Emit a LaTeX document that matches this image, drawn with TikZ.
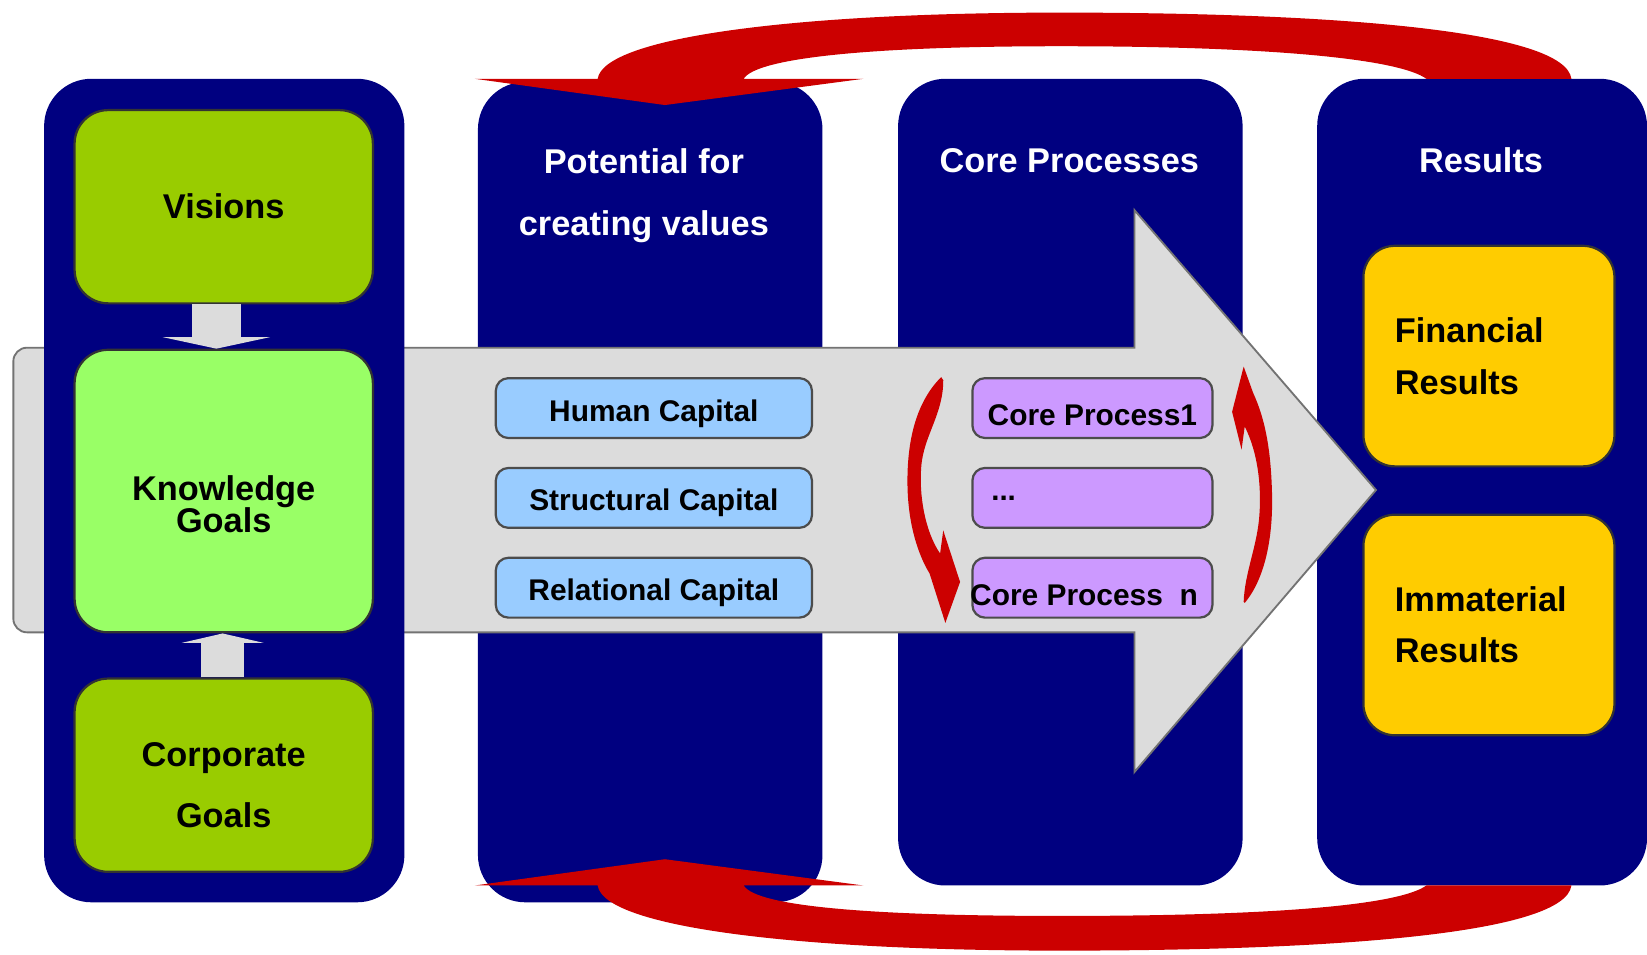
\documentclass[tikz,border=0pt]{standalone}
\usepackage{fontspec}
\setmainfont{Liberation Sans}
\usetikzlibrary{%
  arrows.meta,%
  positioning,%
  calc%
}
\definecolor{navyblue}{HTML}{000080}
\definecolor{goalgreen}{HTML}{99CC00}
\definecolor{knowgreen}{HTML}{99FF66}
\definecolor{capblue}{HTML}{99CCFF}
\definecolor{procviolet}{HTML}{CC99FF}
\definecolor{resyellow}{HTML}{FFCC00}
\definecolor{loopred}{HTML}{CC0000}
\definecolor{flowgray}{HTML}{DCDCDC}

\begin{document}
\begin{tikzpicture}
  [
  font=\bfseries, line width=0.6pt,
  column/.style={rectangle, fill=navyblue, rounded corners=4.5mm, inner sep=0pt},
  goal/.style={rectangle, minimum height=18.4mm, minimum width=28.4mm, draw=black!80, fill=goalgreen, rounded corners=3.2mm, align=center, font=\fontsize{9.3}{16.3}\selectfont\bfseries},
  goaltext/.style={goal, draw=none, fill=none, minimum height=0mm},
  capital/.style={rectangle, minimum height=5.7mm, minimum width=30.1mm, inner sep=0pt, draw=black!70, fill=capblue, rounded corners=1.2mm, font=\fontsize{8.1}{9.6}\selectfont\bfseries},
  process/.style={capital, minimum width=22.85mm, fill=procviolet},
  result/.style={rectangle, minimum height=21mm, text width=17.9mm, inner xsep=3mm, draw=black!80, fill=resyellow, rounded corners=3mm, align=left, font=\fontsize{9.3}{13.9}\selectfont\bfseries},
  header/.style={text=white, align=center, font=\fontsize{9.3}{16.7}\selectfont\bfseries},
  flow/.style={fill=flowgray, draw=black!55, line width=0.5pt},
  block/.style={draw=flowgray, line width=4.7mm, -{Triangle[width=10.2mm, length=1.1mm]}},
  loop/.style={fill=loopred}
  ]

\useasboundingbox (0,0) rectangle (15.68,-9.09);

\node[column, minimum width=32.8mm, minimum height=78.1mm] (col2) at (6.19,-4.685) {};
\node[column, minimum width=32.8mm, minimum height=76.8mm] (col3) at (10.19,-4.59) {};
\node[column, minimum width=31.4mm, minimum height=76.8mm] (col4) at (14.11,-4.59) {};

\draw[flow, rounded corners=1.3mm] (5,-3.31) -- (0.127,-3.31) -- (0.127,-6.02) -- (5,-6.02) [sharp corners] -- (10.80,-6.02) -- (10.80,-7.35) -- (13.10,-4.665) -- (10.80,-2.00) -- (10.80,-3.31) -- cycle;

\node[column, minimum width=34.3mm, minimum height=78.4mm] (col1) at (2.135,-4.67) {};

\node[header] (head2) at (6.13,-1.86) {Potential for\\creating values};
\node[header] (head3) at (10.18,-1.53) {Core Processes};
\node[header] (head4) at (14.10,-1.53) {Results};

\node[goal] (vis) at (2.13,-1.968) {Visions};
\node[goal, minimum height=26.9mm, fill=knowgreen] (know) at (2.13,-4.675) {};
\node[goaltext] (knowtext) at (2.13,-4.80) {Knowledge\\[-7.8pt]Goals};
\node[goal] (corp) at (2.13,-7.38) {};
\node[goaltext] (corptext) at (2.13,-7.475) {Corporate\\Goals};

\draw[block] ([xshift=-0.7mm]vis.south) -- ([xshift=-0.7mm]know.north);
\draw[block, line width=4.1mm, -{Triangle[width=7.8mm, length=0.9mm]}] ([xshift=-0.1mm]corp.north) -- ([xshift=-0.1mm]know.south);

\foreach \t [count=\i] in {Human Capital, Structural Capital, Relational Capital} {
  \node[capital] (cap\i) at (6.225,-3.03-0.855*\i) {\raisebox{-0.5mm}[\height][\depth]{\t}};
}

\foreach \t [count=\i] in {Core Process1, {}, \hspace*{-1.6mm}Core Process~~n} {
  \node[process] (proc\i) at (10.40,-3.03-0.855*\i) {\raisebox{-0.7mm}[\height][\depth]{\t}};
}
\node[anchor=west, inner sep=0pt, font=\fontsize{8}{9.6}\selectfont\bfseries] (dots) at ([xshift=1.8mm]proc2.west) {...};

\node[result] (fin) at (14.175,-3.39) {Financial\\Results};
\node[result] (imm) at (14.175,-5.95) {Immaterial\\Results};

% feedback loops
\fill[loop] (14.96,-0.75) .. controls (14.90,-0.30) and (12.80,-0.12) .. (10.10,-0.12) .. controls (7.60,-0.12) and (5.75,-0.35) .. (5.69,-0.75) -- (4.52,-0.75) -- (6.33,-1.00) -- (8.22,-0.75) -- (7.08,-0.75) .. controls (7.20,-0.55) and (8.30,-0.44) .. (10.10,-0.44) .. controls (12.00,-0.44) and (13.30,-0.55) .. (13.58,-0.75) -- cycle;
\fill[loop] (14.96,-8.43) .. controls (14.90,-8.88) and (12.80,-9.05) .. (10.10,-9.05) .. controls (7.60,-9.05) and (5.75,-8.83) .. (5.69,-8.43) -- (4.52,-8.43) -- (6.33,-8.18) -- (8.22,-8.43) -- (7.08,-8.43) .. controls (7.20,-8.63) and (8.30,-8.72) .. (10.10,-8.72) .. controls (12.00,-8.72) and (13.30,-8.63) .. (13.58,-8.43) -- cycle;

% process cycle
\fill[loop] (8.96,-3.59) .. controls (8.70,-3.85) and (8.63,-4.25) .. (8.64,-4.65) .. controls (8.65,-5.00) and (8.74,-5.28) .. (8.85,-5.46) -- (9.00,-5.93) -- (9.14,-5.54) -- (8.98,-5.05) -- (8.95,-5.27) .. controls (8.80,-5.05) and (8.75,-4.70) .. (8.77,-4.45) .. controls (8.79,-4.15) and (8.98,-3.95) .. (8.98,-3.62) -- cycle;
\fill[loop] (11.85,-5.74) .. controls (12.05,-5.50) and (12.12,-5.10) .. (12.11,-4.70) .. controls (12.10,-4.30) and (12.05,-4.00) .. (11.93,-3.74) -- (11.84,-3.49) -- (11.73,-3.92) -- (11.82,-4.28) -- (11.85,-4.06) .. controls (11.97,-4.30) and (12.01,-4.60) .. (11.99,-4.90) .. controls (11.97,-5.20) and (11.85,-5.45) .. (11.84,-5.73) -- cycle;
\end{tikzpicture}
\end{document}
